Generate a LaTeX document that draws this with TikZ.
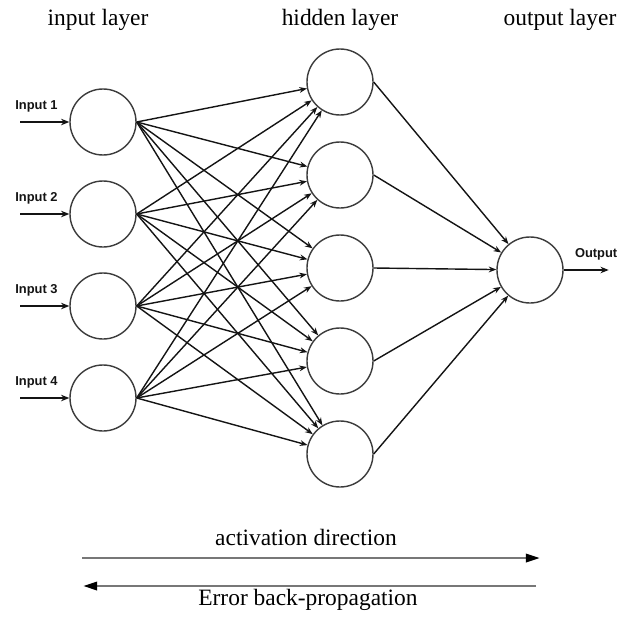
\documentclass[tikz,border=0pt]{standalone}
\usepackage{fontspec}
\setmainfont{Liberation Serif}
\newfontfamily\lblfont{Liberation Sans}
\usepackage{tikz}
\usetikzlibrary{arrows.meta,positioning}
\definecolor{edge}{HTML}{141414}
\definecolor{ring}{HTML}{3C3C3C}
\definecolor{flow}{HTML}{777777}

\tikzset{
  neuron/.style={circle,draw=ring,line width=1.2pt,minimum size=1.98cm,inner sep=0pt},
  link/.style={-{Stealth[length=6.5pt,width=5pt]},edge,line width=1.2pt},
  feed/.style={-{Stealth[length=7pt,width=5.5pt]},edge,line width=1.6pt},
  title/.style={font=\fontsize{20}{24}\selectfont},
  tag/.style={font=\lblfont\bfseries\fontsize{11}{13}\selectfont},
  sweep/.style={flow,line width=2.2pt}
}

\begin{document}
\begin{tikzpicture}[x=0.03cm,y=-0.03cm]
  \useasboundingbox (0,0) rectangle (617,616);
  % layers
  \foreach \i/\y in {1/122,2/214,3/306,4/398}
    \node[neuron] (in\i) at (103,\y) {};
  \foreach \j/\y in {1/82,2/175,3/268,4/361,5/454}
    \node[neuron] (hid\j) at (340,\y) {};
  \node[neuron] (out) at (530,270) {};

  \node[title] at (98,20) {input layer};
  \node[title] at (340,20) {hidden layer};
  \node[title] at (560,20) {output layer};

  % weights
  \foreach \i in {1,...,4}
    \foreach \j in {1,...,5}
      \draw[link] (in\i.east) -- (hid\j);
  \foreach \j in {1,...,5}
    \draw[link] (hid\j.east) -- (out);

  % inputs and output
  \foreach \i in {1,...,4}{
    \coordinate[left=1.47cm of in\i] (src\i);
    \draw[feed] (src\i) -- (in\i) node[tag,pos=0.33,above=4pt] {Input \i};
  }
  \coordinate[right=1.35cm of out] (sink);
  \draw[feed] (out) -- (sink) node[tag,pos=0.72,above=4pt] {Output};

  % directions
  \coordinate (actL) at (82,558);
  \coordinate (actR) at (540,558);
  \coordinate (errR) at (536,586);
  \coordinate (errL) at (83,586);
  \draw[sweep,-{Triangle[length=12pt,width=7pt,color=black]}] (actL) -- (actR);
  \draw[sweep,-{Triangle[length=12pt,width=7pt,color=black]}] (errR) -- (errL);
  \node[title] at (306,537) {activation direction};
  \node[title] at (308,600) {Error back-propagation};
\end{tikzpicture}
\end{document}
